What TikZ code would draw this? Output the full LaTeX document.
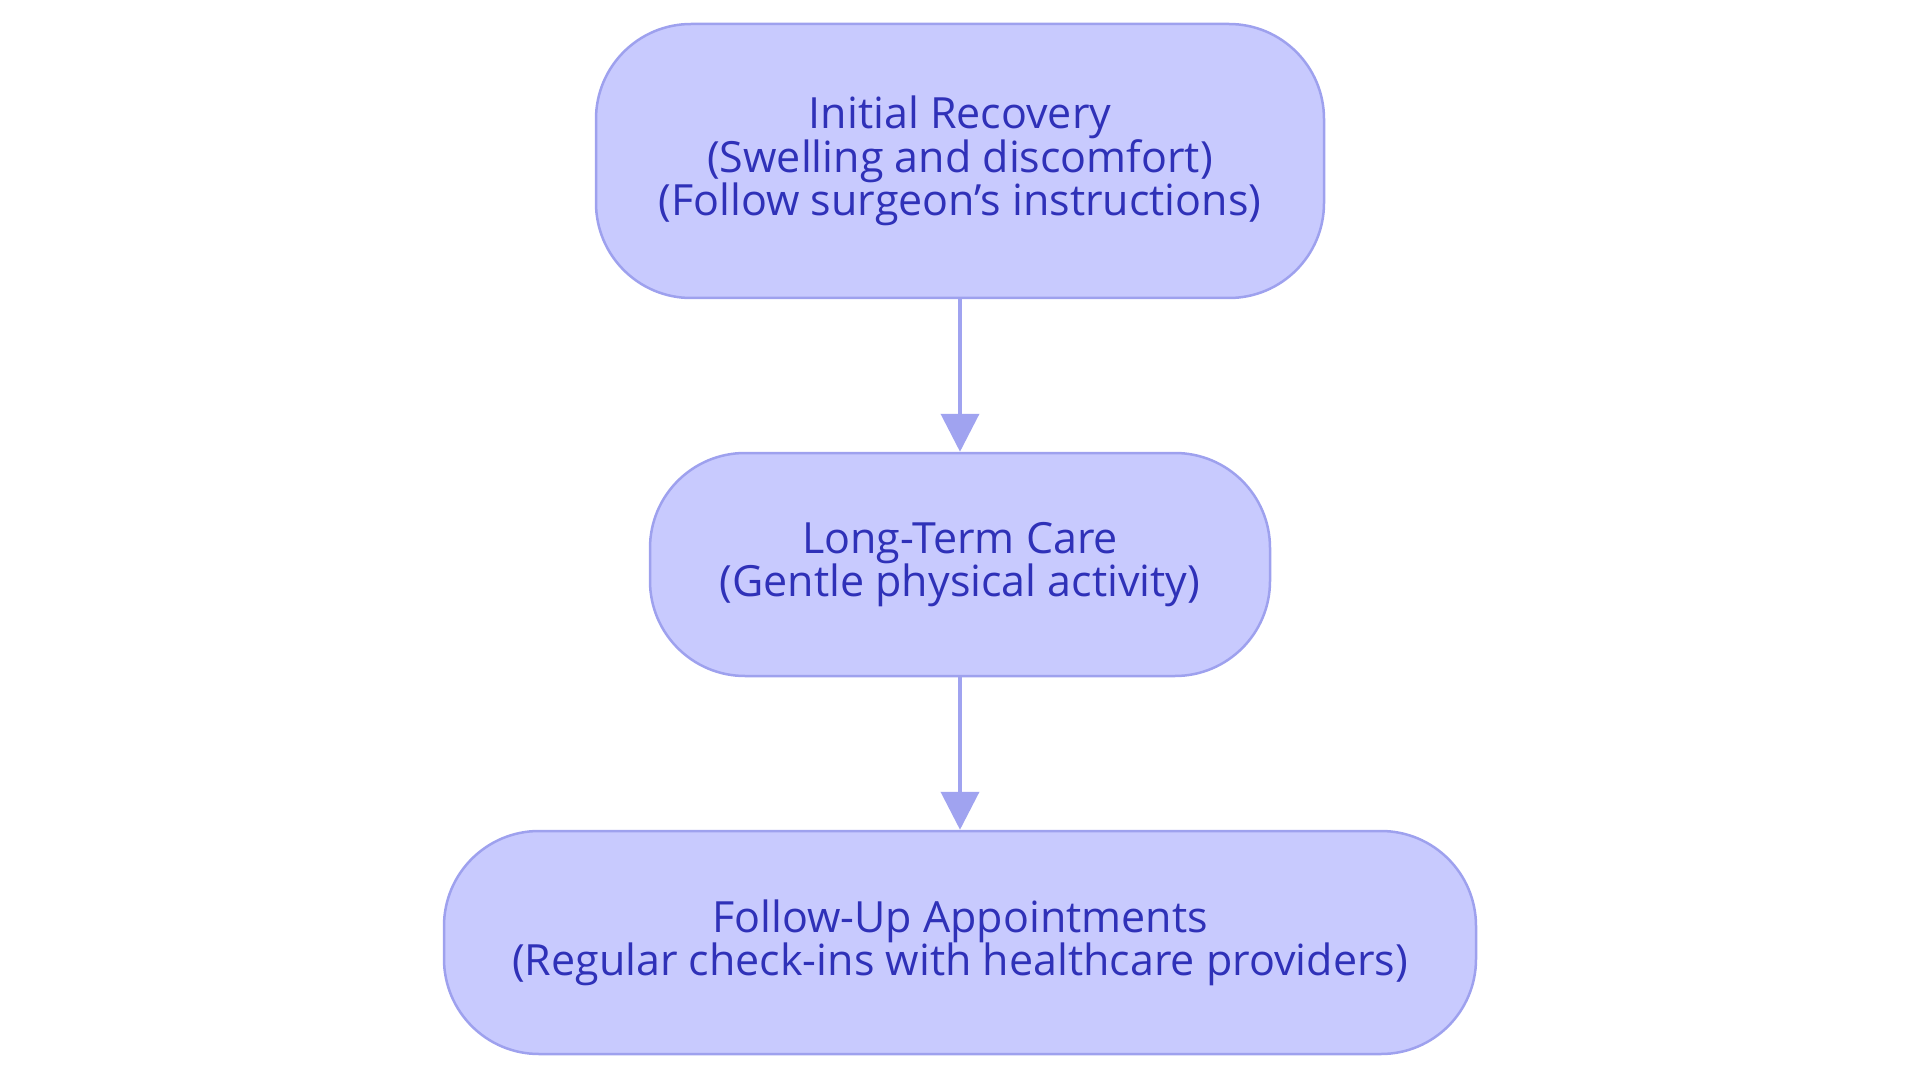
\documentclass[tikz,border=0pt]{standalone}
\usepackage{fontspec}
\setmainfont{Open Sans}
\usetikzlibrary{arrows.meta}
\definecolor{boxfill}{HTML}{C8CAFE}
\definecolor{boxline}{HTML}{9EA1EE}
\definecolor{boxtext}{HTML}{2F31B8}
\definecolor{linkcol}{HTML}{A0A3F0}
\begin{document}
\begin{tikzpicture}[x=1pt,y=-1pt,
  stage/.style={draw=boxline, fill=boxfill, line width=2.5pt, rounded corners=95pt,
    text=boxtext, font=\fontsize{43}{43}\selectfont, align=center, inner sep=0pt},
  link/.style={draw=linkcol, line width=4pt, -{Triangle[length=38pt,width=38pt]}}]
\useasboundingbox (0,0) rectangle (1920,1083);
\node[stage, minimum width=728pt, minimum height=274pt] (initial) at (960,161){Initial Recovery\\(Swelling and discomfort)\\(Follow surgeon’s instructions)};
\node[stage, minimum width=620pt, minimum height=223pt] (longterm) at (960,564.5){Long-Term Care\\(Gentle physical activity)};
\node[stage, minimum width=1032pt, minimum height=223pt] (followup) at (960,942.5){Follow-Up Appointments\\(Regular check-ins with healthcare providers)};
\draw[link](initial) -- (longterm);
\draw[link](longterm) -- (followup);
\end{tikzpicture}
\end{document}
